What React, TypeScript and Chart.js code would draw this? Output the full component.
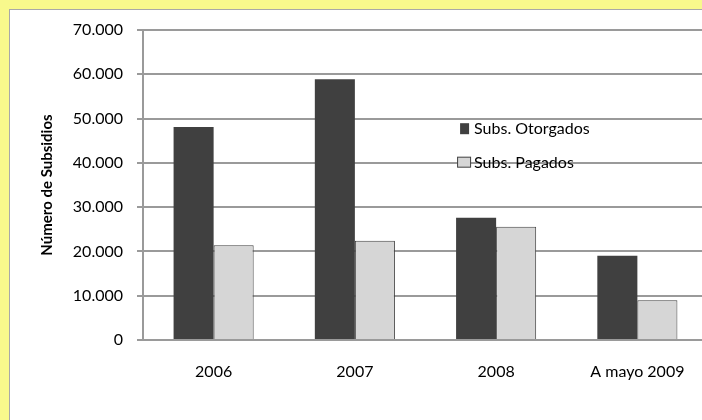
import React, { useEffect, useRef } from 'react';
import { Chart, registerables } from 'chart.js';

Chart.register(...registerables);

const categories = ['2006', '2007', '2008', 'A mayo 2009'];
const otorgados = [48100, 58900, 27600, 19000];
const pagados = [21400, 22400, 25600, 9000];
const seriesNames = ['Subs. Otorgados', 'Subs. Pagados'];
const yMin = 0;
const yMax = 70000;
const yStep = 10000;
const yTitle = 'Número de Subsidios';

const FONT = 'Lato, "Open Sans", sans-serif';
const DARK = '#404040';
const LIGHT = '#D6D6D6';
const GRID = '#9A9A9A';

const fmt = (v: number) => String(Math.round(v)).replace(/\B(?=(\d{3})+(?!\d))/g, '.');

const inlineLegend = {
  id: 'inlineLegend',
  afterDraw(chart: any) {
    const { ctx, chartArea } = chart;
    const w = chartArea.right - chartArea.left;
    const h = chartArea.bottom - chartArea.top;
    const x = chartArea.left + w * 0.586;
    const rows = [chartArea.top + h * 0.32, chartArea.top + h * 0.428];
    ctx.save();
    ctx.font = `16px ${FONT}`;
    ctx.textBaseline = 'middle';
    // Otorgados
    ctx.fillStyle = DARK;
    ctx.fillRect(x - 14, rows[0] - 6, 9, 11);
    ctx.fillStyle = '#000';
    ctx.fillText(seriesNames[0], x, rows[0]);
    // Pagados
    ctx.fillStyle = LIGHT;
    ctx.fillRect(x - 16.5, rows[1] - 5.5, 13, 10);
    ctx.strokeStyle = DARK;
    ctx.lineWidth = 1;
    ctx.strokeRect(x - 16.5, rows[1] - 5.5, 13, 10);
    ctx.fillStyle = '#000';
    ctx.fillText(seriesNames[1], x, rows[1]);
    ctx.restore();
  },
};

export default function App() {
  const ref = useRef<HTMLCanvasElement | null>(null);
  useEffect(() => {
    if (!ref.current) return;
    const chart = new Chart(ref.current, {
      type: 'bar',
      data: {
        labels: categories,
        datasets: [
          {
            label: seriesNames[0],
            data: otorgados,
            backgroundColor: DARK,
            borderWidth: 0,
          },
          {
            label: seriesNames[1],
            data: pagados,
            backgroundColor: LIGHT,
            borderColor: DARK,
            borderWidth: 1,
          },
        ],
      },
      options: {
        responsive: false,
        animation: false,
        devicePixelRatio: 1,
        layout: { padding: { top: 30, left: 0, right: 4, bottom: 0 } },
        datasets: {
          bar: { barPercentage: 1, categoryPercentage: 0.567 },
        },
        plugins: {
          legend: { display: false },
          tooltip: { enabled: false },
        },
        scales: {
          x: {
            grid: { display: false, drawTicks: false },
            border: { display: true, color: GRID, width: 2 },
            ticks: {
              color: '#000',
              font: { family: FONT, size: 16 },
              padding: 22,
              maxRotation: 0,
              autoSkip: false,
            },
            afterFit(scale: any) {
              scale.height = 80;
            },
          },
          y: {
            min: yMin,
            max: yMax,
            grid: { color: GRID, lineWidth: 2, tickLength: 6 },
            border: { display: true, color: GRID, width: 2 },
            ticks: {
              stepSize: yStep,
              color: '#000',
              font: { family: FONT, size: 16 },
              padding: 14,
              callback: (v: any) => fmt(Number(v)),
            },
            title: {
              display: true,
              text: yTitle,
              color: '#000',
              font: { family: FONT, size: 15, weight: 'bold' },
              padding: { top: 38, bottom: 0 },
            },
            afterFit(scale: any) {
              scale.width = 143;
            },
          },
        },
      },
      plugins: [inlineLegend],
    });
    return () => chart.destroy();
  }, []);

  return (
    <div
      style={{
        position: 'fixed',
        left: 0,
        top: 0,
        width: 702,
        height: 420,
        overflow: 'hidden',
        background: '#F8F98C',
      }}
    >
      <div
        style={{
          position: 'absolute',
          left: 9,
          top: 9,
          width: 702,
          height: 420,
          background: '#FFFFFF',
          borderTop: '1px solid #A8A8A8',
          borderLeft: '1px solid #A8A8A8',
        }}
      />
      <canvas
        ref={ref}
        width={712}
        height={420}
        style={{ position: 'absolute', left: 0, top: 0, width: 712, height: 420 }}
      />
    </div>
  );
}
